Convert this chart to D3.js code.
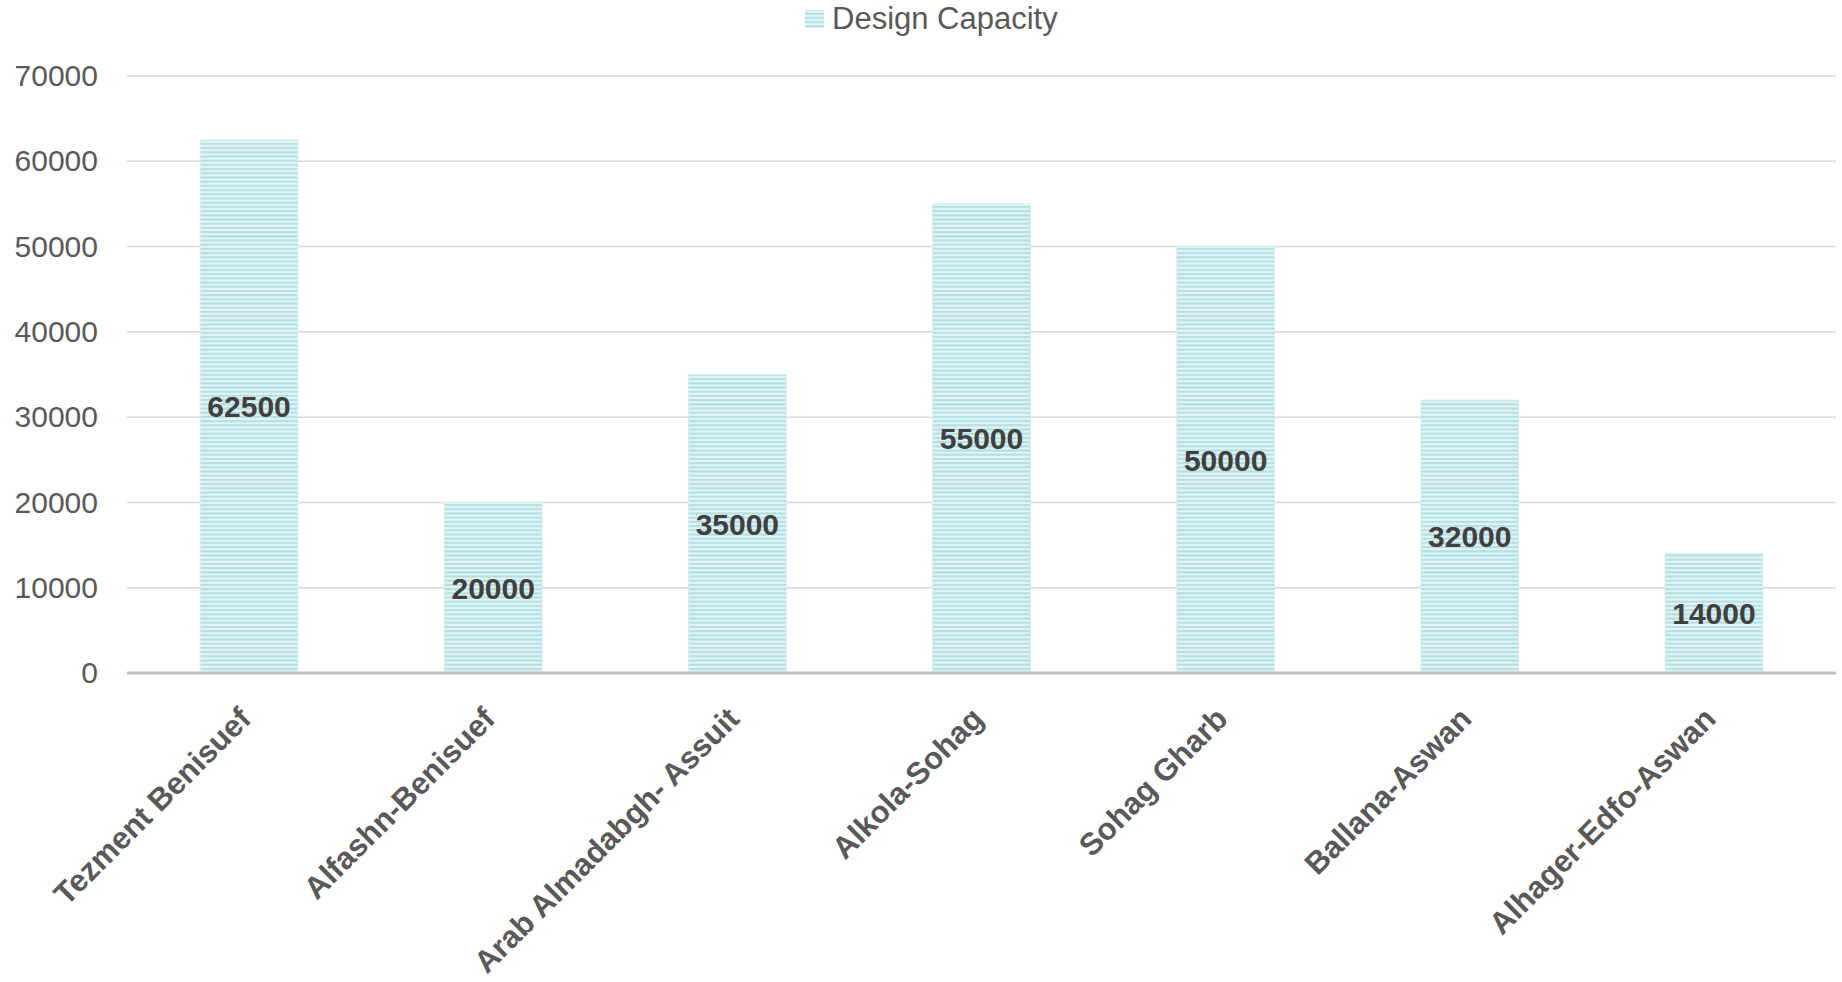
<!DOCTYPE html>
<html>
<head>
<meta charset="utf-8">
<script src="https://cdn.jsdelivr.net/npm/d3@7"></script>
<style>
  html, body { margin: 0; padding: 0; background: #ffffff; }
  svg { display: block; font-family: "Liberation Sans", Arial, sans-serif; }
</style>
</head>
<body>
<svg id="chart" width="1842" height="982"></svg>
<script>
// Plant names and their design capacities
const categories = [
  "Tezment Benisuef",
  "Alfashn-Benisuef",
  "Arab Almadabgh- Assuit",
  "Alkola-Sohag",
  "Sohag Gharb",
  "Ballana-Aswan",
  "Alhager-Edfo-Aswan"
];
const capacity = [62500, 20000, 35000, 55000, 50000, 32000, 14000];
const yTicks = [0, 10000, 20000, 30000, 40000, 50000, 60000, 70000];
const seriesName = "Design Capacity";

const W = 1842, H = 982;
const margin = { top: 76, right: 6, bottom: 309, left: 127 };
const svg = d3.select("#chart");

// Horizontal-line fill for the bars
const defs = svg.append("defs");
const pat = defs.append("pattern")
  .attr("id", "hlines")
  .attr("patternUnits", "userSpaceOnUse")
  .attr("width", 8).attr("height", 4.2);
pat.append("rect").attr("width", 8).attr("height", 4.2).attr("fill", "#e4f5f6");
pat.append("rect").attr("y", 0).attr("width", 8).attr("height", 2.2).attr("fill", "#b5e0e3");

const x = d3.scaleBand()
  .domain(categories)
  .range([margin.left, W - margin.right])
  .paddingInner(0.6)
  .paddingOuter(0.3);

const y = d3.scaleLinear()
  .domain([0, 70000])
  .range([H - margin.bottom, margin.top]);

// Gridlines
svg.append("g")
  .selectAll("line")
  .data(yTicks.filter(d => d > 0))
  .join("line")
  .attr("x1", margin.left).attr("x2", W - margin.right)
  .attr("y1", d => y(d)).attr("y2", d => y(d))
  .attr("stroke", "#d9d9d9").attr("stroke-width", 1.5);

// Y axis labels
const yAxis = d3.axisLeft(y).tickValues(yTicks).tickSize(0).tickPadding(29).tickFormat(d3.format("d"));
const gy = svg.append("g").attr("transform", `translate(${margin.left},0)`).call(yAxis);
gy.select(".domain").remove();
gy.selectAll("text")
  .attr("fill", "#595959")
  .style("font-size", "30px");

// Bars
svg.append("g")
  .selectAll("rect")
  .data(capacity)
  .join("rect")
  .attr("x", (d, i) => x(categories[i]))
  .attr("y", d => y(d))
  .attr("width", x.bandwidth())
  .attr("height", d => y(0) - y(d))
  .attr("fill", "url(#hlines)")
  .attr("stroke", "#d4eef0")
  .attr("stroke-width", 1);

// Baseline
svg.append("line")
  .attr("x1", margin.left).attr("x2", W - margin.right)
  .attr("y1", y(0)).attr("y2", y(0))
  .attr("stroke", "#bfbfbf").attr("stroke-width", 3);

// Value labels centred in each bar
svg.append("g")
  .selectAll("text")
  .data(capacity)
  .join("text")
  .attr("x", (d, i) => x(categories[i]) + x.bandwidth() / 2)
  .attr("y", d => (y(d) + y(0)) / 2)
  .attr("dy", "0.36em")
  .attr("text-anchor", "middle")
  .attr("fill", "#404040")
  .style("font-size", "30px")
  .style("font-weight", "bold")
  .text(d => d);

// Category labels, rotated
const xAxis = d3.axisBottom(x).tickSize(0).tickPadding(0);
const gx = svg.append("g").attr("transform", `translate(0,${y(0)})`).call(xAxis);
gx.select(".domain").remove();
gx.selectAll("text")
  .attr("text-anchor", "end")
  .attr("fill", "#595959")
  .style("font-size", "31px")
  .style("font-weight", "bold")
  .attr("dy", "0.35em")
  .attr("transform", "translate(-4,40) rotate(-45)");

// Legend
const leg = svg.append("g");
leg.append("rect")
  .attr("x", 805).attr("y", 10).attr("width", 19).attr("height", 18)
  .attr("fill", "url(#hlines)");
leg.append("text")
  .attr("x", 832).attr("y", 29)
  .attr("fill", "#595959")
  .style("font-size", "31px")
  .text(seriesName);
</script>
</body>
</html>
